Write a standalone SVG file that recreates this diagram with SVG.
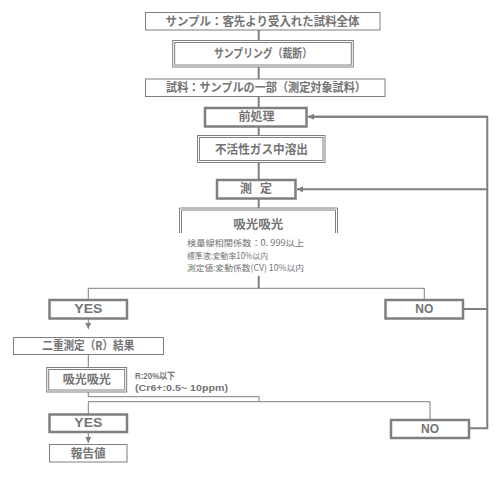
<svg xmlns="http://www.w3.org/2000/svg" width="500" height="480" viewBox="0 0 500 480">
<defs>
<marker id="ah" viewBox="0 0 8 8" refX="8" refY="4" markerWidth="6" markerHeight="6" markerUnits="userSpaceOnUse" orient="auto">
<path d="M0,0 L8,4 L0,8 z" fill="#7f7f7f"/>
</marker>
</defs>
<style>
.b{fill:#fff;stroke:#7f7f7f;stroke-width:1}
.bt{fill:#fff;stroke:#7f7f7f;stroke-width:2.5}
.t{font-family:"Noto Sans CJK JP","DejaVu Sans",sans-serif;font-weight:700;font-size:12px;fill:#747474;text-anchor:middle}
.e{font-family:"Liberation Sans","Noto Sans CJK JP",sans-serif;font-weight:700;font-size:12px;fill:#747474;text-anchor:middle}
.s{font-family:"Noto Sans CJK JP","DejaVu Sans",sans-serif;font-size:8.5px;fill:#747474}
.sb{font-family:"Liberation Sans","Noto Sans CJK JP",sans-serif;font-weight:700;font-size:9.5px;fill:#747474}
.c{fill:none;stroke:#7f7f7f;stroke-width:1}
.c2{fill:none;stroke:#7f7f7f;stroke-width:2}
</style>
<rect width="500" height="480" fill="#fff"/>
<g id="connectors">
<path class="c2" d="M258.7,30 V40 M258.7,67 V79 M258.7,97 V107 M258.7,127 V135 M258.7,163 V179 M258.7,198 V208"/>
<path class="c2" d="M258.7,276 V288"/>
<path class="c" d="M88.3,299 V288.3 H424.3 V299"/>
<path class="c" d="M88.3,318 V329" marker-end="url(#ah)"/>
<path class="c" d="M88.3,354 V367"/>
<path class="c" d="M88.3,392 V396.7 H259 V401.7"/>
<path class="c" d="M88.3,414 V401.7 H430 V419.3"/>
<path class="c" d="M88.3,432 V443" marker-end="url(#ah)"/>
<path class="c2" d="M463.3,309 H487.3 M469.3,428.3 H487.3 V116.7 H309"/>
<path class="c2" d="M487.3,116.7 H308" marker-end="url(#ah)"/>
<path class="c2" d="M487.3,189.3 H297" marker-end="url(#ah)"/>
</g>
<g id="n1">
<rect class="b" x="145.5" y="12.5" width="234.5" height="17.5"/>
<text class="t" x="262.5" y="25.5" textLength="194" lengthAdjust="spacingAndGlyphs">サンプル：客先より受入れた試料全体</text>
</g>
<g id="n2">
<rect class="b" x="172.7" y="40.5" width="180.6" height="26.5"/>
<rect class="b" x="174.7" y="42.5" width="176.6" height="22.5"/>
<text class="t" x="263" y="57.7" textLength="98" lengthAdjust="spacingAndGlyphs">サンプリング（裁断）</text>
</g>
<g id="n3">
<rect class="b" x="145.5" y="79" width="239.5" height="17.5"/>
<text class="t" x="266" y="92" textLength="200" lengthAdjust="spacingAndGlyphs">試料：サンプルの一部（測定対象試料）</text>
</g>
<g id="n4">
<rect class="bt" x="205" y="108" width="101.5" height="18.5"/>
<text class="t" x="256.5" y="121.3">前処理</text>
</g>
<g id="n5">
<rect class="b" x="197.5" y="135.5" width="127.5" height="27"/>
<rect class="b" x="199.5" y="137.5" width="123.5" height="23"/>
<text class="t" x="261.5" y="153.5" textLength="93" lengthAdjust="spacingAndGlyphs">不活性ガス中溶出</text>
</g>
<g id="n6">
<rect class="bt" x="217" y="180" width="78.5" height="18.5"/>
<text class="t" x="256" y="193.3" textLength="32" lengthAdjust="spacing" xml:space="preserve">測  定</text>
</g>
<g id="n7">
<path class="b" d="M179.5,233 V208 H337.5 V233" fill="none"/>
<path class="b" d="M181.5,233 V210 H335.5 V233" fill="none"/>
<text class="t" x="258.3" y="228.5" textLength="50" lengthAdjust="spacingAndGlyphs">吸光吸光</text>
<text class="s" x="187" y="246" textLength="117" lengthAdjust="spacingAndGlyphs">検量線相関係数：0. 999以上</text>
<text class="s" x="187" y="258.5" textLength="81" lengthAdjust="spacingAndGlyphs">標準液:変動率10%以内</text>
<text class="s" x="187" y="271" textLength="117" lengthAdjust="spacingAndGlyphs">測定値:変動係数(CV) 10%以内</text>
</g>
<g id="n8">
<rect class="bt" x="49.5" y="300" width="77.5" height="18.5"/>
<text class="e" x="88.3" y="313.3" textLength="28" lengthAdjust="spacingAndGlyphs">YES</text>
</g>
<g id="n9">
<rect class="bt" x="385.5" y="300" width="77.5" height="18.5"/>
<text class="e" x="424.3" y="313.3" textLength="18" lengthAdjust="spacingAndGlyphs">NO</text>
</g>
<g id="n10">
<rect class="b" x="13.5" y="337.5" width="150" height="17"/>
<text class="t" x="88.3" y="350.3" textLength="92" lengthAdjust="spacingAndGlyphs">二重測定（R）結果</text>
</g>
<g id="n11">
<rect class="b" x="46.7" y="367.5" width="80" height="24.5"/>
<rect class="b" x="48.7" y="369.5" width="76" height="20.5"/>
<text class="t" x="86.7" y="384.3" textLength="48" lengthAdjust="spacingAndGlyphs">吸光吸光</text>
<text class="sb" x="135" y="379" textLength="40" lengthAdjust="spacingAndGlyphs">R:20%以下</text>
<text class="sb" x="135" y="390.5" textLength="93" lengthAdjust="spacingAndGlyphs">(Cr6+:0.5~ 10ppm)</text>
</g>
<g id="n12">
<rect class="bt" x="49.5" y="414.5" width="77.5" height="17.5"/>
<text class="e" x="88.3" y="427.3" textLength="28" lengthAdjust="spacingAndGlyphs">YES</text>
</g>
<g id="n13">
<rect class="bt" x="391" y="420" width="78" height="18"/>
<text class="e" x="430" y="433.3" textLength="18" lengthAdjust="spacingAndGlyphs">NO</text>
</g>
<g id="n14">
<rect class="b" x="49.5" y="444.5" width="77.5" height="17.5"/>
<text class="t" x="88.3" y="457.5" textLength="35" lengthAdjust="spacingAndGlyphs">報告値</text>
</g>
</svg>
